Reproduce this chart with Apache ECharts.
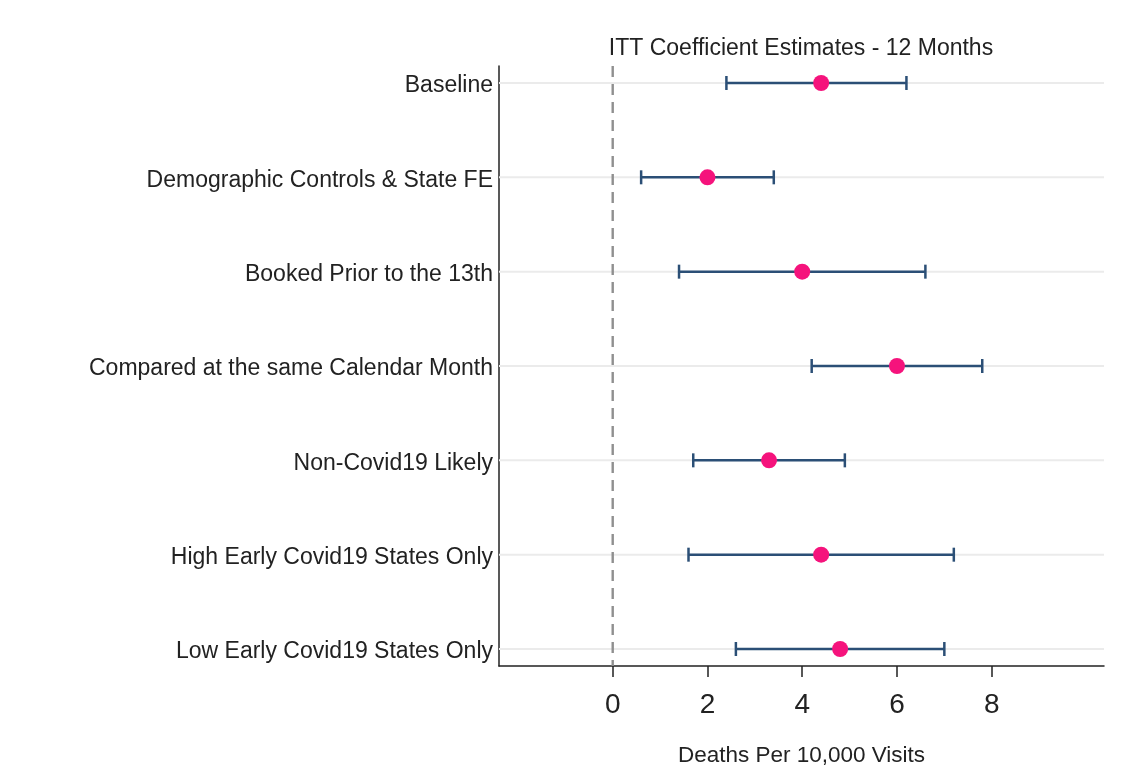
<!DOCTYPE html>
<html>
<head>
<meta charset="utf-8">
<script src="https://cdn.jsdelivr.net/npm/echarts@6/dist/echarts.min.js"></script>
<style>
  html, body { margin: 0; padding: 0; background: #fff; }
  #chart { width: 1143px; height: 772px; }
</style>
</head>
<body>
<div id="chart"></div>
<script>
// Specifications, top to bottom
const specLabels = [
  'Baseline',
  'Demographic Controls & State FE',
  'Booked Prior to the 13th',
  'Compared at the same Calendar Month',
  'Non-Covid19 Likely',
  'High Early Covid19 States Only',
  'Low Early Covid19 States Only'
];
// Point estimates and confidence bounds (deaths per 10,000 visits)
const estimates = [4.4, 2.0, 4.0, 6.0, 3.3, 4.4, 4.8];
const lowerCI   = [2.4, 0.6, 1.4, 4.2, 1.7, 1.6, 2.6];
const upperCI   = [6.2, 3.4, 6.6, 7.8, 4.9, 7.2, 7.0];
// Tick labels on the horizontal axis
const xTicks = [0, 2, 4, 6, 8];
// Reference value drawn as a dashed vertical line
const zeroLine = [0];

const FONT = 'Liberation Sans, Arial, sans-serif';
const rowPos = specLabels.map((_, i) => i + 1);

const chart = echarts.init(document.getElementById('chart'), null, { renderer: 'canvas' });

const option = {
  backgroundColor: '#ffffff',
  animation: false,
  title: {
    text: 'ITT Coefficient Estimates - 12 Months',
    left: 801,
    top: 37,
    padding: 0,
    textAlign: 'center',
    textStyle: { fontFamily: FONT, fontSize: 23, fontWeight: 'normal', color: '#222' }
  },
  grid: { left: 499, right: 39, top: 66, bottom: 104, containLabel: false },
  xAxis: {
    type: 'value',
    min: -2.4,
    max: 10.37,
    name: 'Deaths Per 10,000 Visits',
    nameLocation: 'middle',
    nameGap: 78,
    nameTextStyle: { fontFamily: FONT, fontSize: 22.5, color: '#222' },
    axisLine: { show: true, onZero: false, lineStyle: { color: '#222', width: 1.5 } },
    axisTick: { show: true, length: 11, inside: false, customValues: xTicks, lineStyle: { color: '#222', width: 1.5 } },
    axisLabel: { customValues: xTicks, margin: 25, fontFamily: FONT, fontSize: 28, color: '#222' },
    splitLine: { show: false }
  },
  yAxis: {
    type: 'value',
    inverse: true,
    min: 0.82,
    max: 7.18,
    axisLine: { show: true, onZero: false, lineStyle: { color: '#222', width: 1.5 } },
    axisTick: { show: false },
    axisLabel: {
      customValues: rowPos,
      margin: 6,
      verticalAlign: 'top',
      lineHeight: 6,
      fontFamily: FONT,
      fontSize: 23,
      color: '#222',
      formatter: v => specLabels[Math.round(v) - 1] || ''
    },
    splitLine: { show: false }
  },
  series: [
    {
      // light horizontal guide line at each specification
      type: 'custom',
      silent: true,
      data: rowPos.map(p => [0, p]),
      encode: { x: 0, y: 1 },
      renderItem: function (params, api) {
        const cs = params.coordSys;
        const y = api.coord([0, api.value(1)])[1];
        return {
          type: 'line',
          shape: { x1: cs.x, y1: y, x2: cs.x + cs.width, y2: y },
          style: { stroke: '#ebebeb', lineWidth: 2 }
        };
      },
      z: 1
    },
    {
      // dashed vertical reference line at zero
      type: 'custom',
      silent: true,
      data: zeroLine.map(v => [v, 1]),
      encode: { x: 0, y: 1 },
      renderItem: function (params, api) {
        const cs = params.coordSys;
        const x = api.coord([api.value(0), 1])[0];
        return {
          type: 'line',
          shape: { x1: x, y1: cs.y, x2: x, y2: cs.y + cs.height },
          style: { stroke: '#8f8f8f', lineWidth: 2.4, lineDash: [11, 7] }
        };
      },
      z: 2
    },
    {
      // confidence intervals with end caps
      type: 'custom',
      data: rowPos.map((p, i) => [lowerCI[i], upperCI[i], p]),
      encode: { x: [0, 1], y: 2 },
      renderItem: function (params, api) {
        const lo = api.coord([api.value(0), api.value(2)]);
        const hi = api.coord([api.value(1), api.value(2)]);
        const cap = 7;
        const style = { stroke: '#2b4f76', lineWidth: 2.5 };
        return {
          type: 'group',
          children: [
            { type: 'line', shape: { x1: lo[0], y1: lo[1], x2: hi[0], y2: hi[1] }, style },
            { type: 'line', shape: { x1: lo[0], y1: lo[1] - cap, x2: lo[0], y2: lo[1] + cap }, style },
            { type: 'line', shape: { x1: hi[0], y1: hi[1] - cap, x2: hi[0], y2: hi[1] + cap }, style }
          ]
        };
      },
      z: 3
    },
    {
      // point estimates
      type: 'scatter',
      data: rowPos.map((p, i) => [estimates[i], p]),
      symbol: 'circle',
      symbolSize: 16,
      itemStyle: { color: '#f5137c', opacity: 1 },
      z: 4
    }
  ]
};

chart.setOption(option);
</script>
</body>
</html>
